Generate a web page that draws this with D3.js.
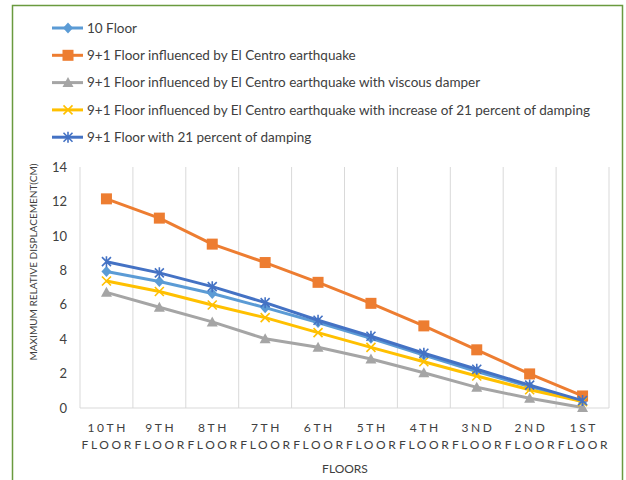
<!DOCTYPE html>
<html>
<head>
<meta charset="utf-8">
<script src="https://cdn.jsdelivr.net/npm/d3@7"></script>
<style>
  body { margin: 0; background: #fff; }
  svg { display: block; font-family: Lato, "Open Sans", sans-serif; }
</style>
</head>
<body>
<svg id="chart"></svg>
<script>
// floors, top to bottom as in the chart
const floors = ["10TH FLOOR", "9TH FLOOR", "8TH FLOOR", "7TH FLOOR", "6TH FLOOR",
                "5TH FLOOR", "4TH FLOOR", "3ND FLOOR", "2ND FLOOR", "1ST FLOOR"];

const seriesNames = [
  "10 Floor",
  "9+1 Floor influenced by El Centro earthquake",
  "9+1 Floor influenced by El Centro earthquake with viscous damper",
  "9+1 Floor influenced by El Centro earthquake with increase of 21 percent of damping",
  "9+1 Floor with 21 percent of damping"
];

const tenFloor   = [7.93, 7.35, 6.65, 5.83, 4.97, 4.05, 3.08, 2.12, 1.25, 0.38];
const elCentro   = [12.15, 11.03, 9.52, 8.45, 7.30, 6.08, 4.77, 3.38, 1.98, 0.70];
const viscous    = [6.72, 5.85, 5.00, 4.02, 3.53, 2.85, 2.05, 1.20, 0.57, 0.03];
const increase21 = [7.38, 6.77, 5.98, 5.25, 4.38, 3.52, 2.69, 1.86, 1.06, 0.37];
const damping21  = [8.50, 7.85, 7.05, 6.12, 5.10, 4.17, 3.18, 2.25, 1.33, 0.43];

const yTicks = [0, 2, 4, 6, 8, 10, 12, 14];

const colors  = ["#5b9bd5", "#ed7d31", "#a5a5a5", "#ffc000", "#4472c4"];
const markers = ["diamond", "square", "triangle", "x", "asterisk"];

const series = [tenFloor, elCentro, viscous, increase21, damping21].map((values, i) => ({
  name: seriesNames[i], color: colors[i], marker: markers[i],
  points: values.map((v, j) => ({ floor: floors[j], value: v }))
}));

const W = 626, H = 480;
const svg = d3.select("#chart").attr("width", W).attr("height", H);

// outer frame
svg.append("rect")
  .attr("x", 12.5).attr("y", 5.5)
  .attr("width", 610).attr("height", 480)
  .attr("fill", "#fff").attr("stroke", "#6a9a3f").attr("stroke-width", 1.5);

const plot = { left: 80, right: 609, top: 167, bottom: 408 };

const x = d3.scaleBand().domain(floors).range([plot.left, plot.right]).padding(0);
const y = d3.scaleLinear().domain([0, 14]).range([plot.bottom, plot.top]);

// vertical gridlines between categories
const gridX = floors.map(f => x(f)).concat([plot.right]);
svg.append("g").selectAll("line")
  .data(gridX)
  .join("line")
  .attr("x1", d => d).attr("x2", d => d)
  .attr("y1", plot.top).attr("y2", plot.bottom)
  .attr("stroke", "#d9d9d9").attr("stroke-width", 1);

// bottom axis line
svg.append("line")
  .attr("x1", plot.left).attr("x2", plot.right)
  .attr("y1", plot.bottom).attr("y2", plot.bottom)
  .attr("stroke", "#d9d9d9").attr("stroke-width", 1);

// Y axis labels
const yAxis = svg.append("g")
  .attr("transform", `translate(${plot.left - 13},0)`)
  .call(d3.axisLeft(y).tickValues(yTicks).tickSize(0).tickPadding(0));
yAxis.select(".domain").remove();
yAxis.selectAll("text")
  .style("font-family", "Lato, sans-serif")
  .style("font-size", "13px")
  .attr("fill", "#404040");

// X axis labels (two lines, spaced letters)
const xAxis = svg.append("g")
  .attr("transform", `translate(0,${plot.bottom})`)
  .call(d3.axisBottom(x).tickSize(0).tickFormat(""));
xAxis.select(".domain").remove();
xAxis.selectAll(".tick").each(function(d) {
  const parts = d.split(" ");
  const t = d3.select(this).append("text")
    .attr("fill", "#404040")
    .attr("text-anchor", "middle")
    .style("font-family", "Lato, sans-serif")
    .style("font-size", "12px")
    .style("letter-spacing", "2.6px");
  t.append("tspan").attr("x", 1.3).attr("y", 24).text(parts[0]);
  t.append("tspan").attr("x", 1.3).attr("y", 41).text(parts[1]);
});

// axis titles
svg.append("text")
  .attr("x", 345).attr("y", 473)
  .attr("text-anchor", "middle")
  .attr("fill", "#404040")
  .style("font-size", "12px")
  .text("FLOORS");

svg.append("text")
  .attr("transform", "translate(37,262) rotate(-90)")
  .attr("text-anchor", "middle")
  .attr("fill", "#404040")
  .style("font-size", "9.5px")
  .attr("textLength", 197)
  .attr("lengthAdjust", "spacingAndGlyphs")
  .text("MAXIMUM RELATIVE DISPLACEMENT(CM)");

// marker shapes
function drawMarker(g, type, color, cx, cy) {
  if (type === "square") {
    g.append("rect").attr("x", cx - 5.5).attr("y", cy - 5.5).attr("width", 11).attr("height", 11)
      .attr("fill", color);
  } else if (type === "diamond") {
    g.append("path").attr("d", `M${cx},${cy - 5.5}L${cx + 5},${cy}L${cx},${cy + 5.5}L${cx - 5},${cy}Z`)
      .attr("fill", color);
  } else if (type === "triangle") {
    g.append("path").attr("d", `M${cx},${cy - 5.5}L${cx + 5.5},${cy + 4.5}L${cx - 5.5},${cy + 4.5}Z`)
      .attr("fill", color);
  } else if (type === "x") {
    g.append("path").attr("d", `M${cx - 4.5},${cy - 4.5}L${cx + 4.5},${cy + 4.5}M${cx - 4.5},${cy + 4.5}L${cx + 4.5},${cy - 4.5}`)
      .attr("stroke", color).attr("stroke-width", 1.6);
  } else if (type === "asterisk") {
    g.append("path").attr("d", `M${cx - 4.5},${cy - 4.5}L${cx + 4.5},${cy + 4.5}M${cx - 4.5},${cy + 4.5}L${cx + 4.5},${cy - 4.5}M${cx},${cy - 5.5}L${cx},${cy + 5.5}`)
      .attr("stroke", color).attr("stroke-width", 1.6);
  }
}

// lines
const line = d3.line()
  .x(d => x(d.floor) + x.bandwidth() / 2)
  .y(d => y(d.value));

series.forEach(s => {
  const g = svg.append("g");
  g.append("path")
    .datum(s.points)
    .attr("d", line)
    .attr("fill", "none")
    .attr("stroke", s.color)
    .attr("stroke-width", 3)
    .attr("stroke-linejoin", "round");
  s.points.forEach(p => drawMarker(g, s.marker, s.color, x(p.floor) + x.bandwidth() / 2, y(p.value)));
});

// legend
const legend = svg.append("g");
series.forEach((s, i) => {
  const ly = 28 + i * 27.3;
  const g = legend.append("g");
  g.append("line")
    .attr("x1", 52).attr("x2", 83).attr("y1", ly).attr("y2", ly)
    .attr("stroke", s.color).attr("stroke-width", 3);
  drawMarker(g, s.marker, s.color, 68, ly);
  g.append("text")
    .attr("x", 87).attr("y", ly)
    .attr("dy", "0.35em")
    .attr("fill", "#404040")
    .style("font-size", "13.5px")
    .text(s.name);
});
</script>
</body>
</html>
